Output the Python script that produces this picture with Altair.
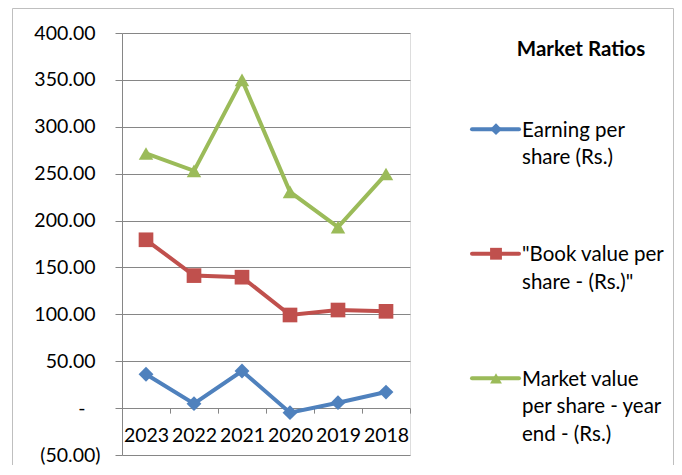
import altair as alt
import pandas as pd

years = ["2023", "2022", "2021", "2020", "2019", "2018"]
series = ["Earning per share (Rs.)",
          "\"Book value per share - (Rs.)\"",
          "Market value per share - year end - (Rs.)"]
legend_labels = ["Earning per\nshare (Rs.)",
                 "\"Book value per\nshare - (Rs.)\"",
                 "Market value\nper share - year\nend - (Rs.)"]
eps = [36.1, 4.7, 39.6, -4.9, 5.8, 17.1]
bvps = [179.5, 141.3, 139.6, 99.3, 104.6, 103.2]
mvps = [271.6, 253.0, 350.0, 230.6, 193.0, 249.6]
y_ticks = [-50, 0, 50, 100, 150, 200, 250, 300, 350, 400]
title_text = "Market Ratios"

colors = ["#4F81BD", "#C0504D", "#9BBB59"]
shapes = ["diamond", "square", "triangle-up"]
FONT = "Lato"
FS = 19.5
LFS = 20.5
GRID = "#868686"

W, H = 288, 422
ymin, ymax = -50, 400

rows = []
for s, vals in zip(series, [eps, bvps, mvps]):
    for yr, v in zip(years, vals):
        rows.append({"year": yr, "series": s, "value": v})
df = pd.DataFrame(rows)

xenc = alt.X("year:N", sort=years, bandPosition=0.5,
             scale=alt.Scale(type="band", paddingInner=0, paddingOuter=0),
             axis=alt.Axis(orient="bottom", offset=-H * (0 - ymin) / (ymax - ymin),
                           domain=False, ticks=True, tickBand="extent", tickSize=5,
                           tickColor=GRID, tickWidth=1, grid=False, title=None,
                           labelAngle=0, labelFont=FONT, labelFontSize=FS,
                           labelColor="#000", labelPadding=13))
yenc = alt.Y("value:Q", scale=alt.Scale(domain=[ymin, ymax], nice=False, zero=False),
             axis=alt.Axis(values=y_ticks, title=None, domain=True, domainColor=GRID,
                           ticks=True, tickSize=7, tickColor=GRID, grid=True,
                           gridColor=GRID, gridWidth=1, labelFont=FONT,
                           labelFontSize=FS, labelColor="#000",
                           labelExpr="datum.value > 0 ? format(datum.value, ',.2f') : (datum.value < 0 ? '(' + format(-datum.value, ',.2f') + ')' : '-')",
                           labelPadding={"condition": [{"test": "datum.value < 0", "value": 15},
                                                       {"test": "datum.value == 0", "value": 30}],
                                         "value": 20}))
cenc = alt.Color("series:N", scale=alt.Scale(domain=series, range=colors), legend=None)
senc = alt.Shape("series:N", scale=alt.Scale(domain=series, range=shapes), legend=None)

base = alt.Chart(df)
lines = base.mark_line(strokeWidth=4).encode(x=xenc, y=yenc, color=cenc)
pts = base.mark_point(filled=True, opacity=1).encode(
    x=xenc, y=yenc, color=cenc, shape=senc,
    size=alt.Size("series:N", scale=alt.Scale(domain=series, range=[220, 210, 270]), legend=None))
main = alt.layer(lines, pts)

ldf = pd.DataFrame({"series": series, "label": legend_labels})
ly = alt.Y("series:N", scale=alt.Scale(type="point", domain=series, range=[96.2, 345.3], padding=0),
           axis=None)
lbase = alt.Chart(ldf)
lrule = lbase.mark_rule(strokeWidth=4, strokeCap="round").encode(
    x=alt.value(350), x2=alt.value(397), y=ly, color=cenc)
lpts = lbase.mark_point(filled=True, opacity=1, size=140).encode(
    x=alt.value(374), y=ly, color=cenc, shape=senc)
ltext = lbase.mark_text(align="left", baseline="alphabetic", lineBreak="\n",
                        lineHeight=27.5, dy=7.5, font=FONT, fontSize=LFS, color="#000").encode(
    x=alt.value(400), y=ly, text="label:N")
legend = alt.layer(lrule, lpts, ltext)

tdf = pd.DataFrame({"t": [title_text]})
title = alt.Chart(tdf).mark_text(align="center", baseline="middle", font=FONT,
                                 fontSize=LFS, fontWeight="bold", color="#000").encode(
    x=alt.value(459), y=alt.value(17), text="t:N")
border = alt.Chart(tdf).mark_rect(fill=None, stroke="#BFBFBF", strokeWidth=1).encode(
    x=alt.value(-109.5), x2=alt.value(551.5), y=alt.value(-24.5), y2=alt.value(520))

chart = alt.layer(border, main, legend, title).resolve_scale(y="independent").properties(
    width=W, height=H,
    autosize=alt.AutoSizeParams(type="none"),
    padding={"left": 114, "top": 25, "right": 264, "bottom": 10},
).configure_view(stroke=None).configure(background="white")

chart.save("out.html", embed_options={"renderer": "svg", "actions": False})
